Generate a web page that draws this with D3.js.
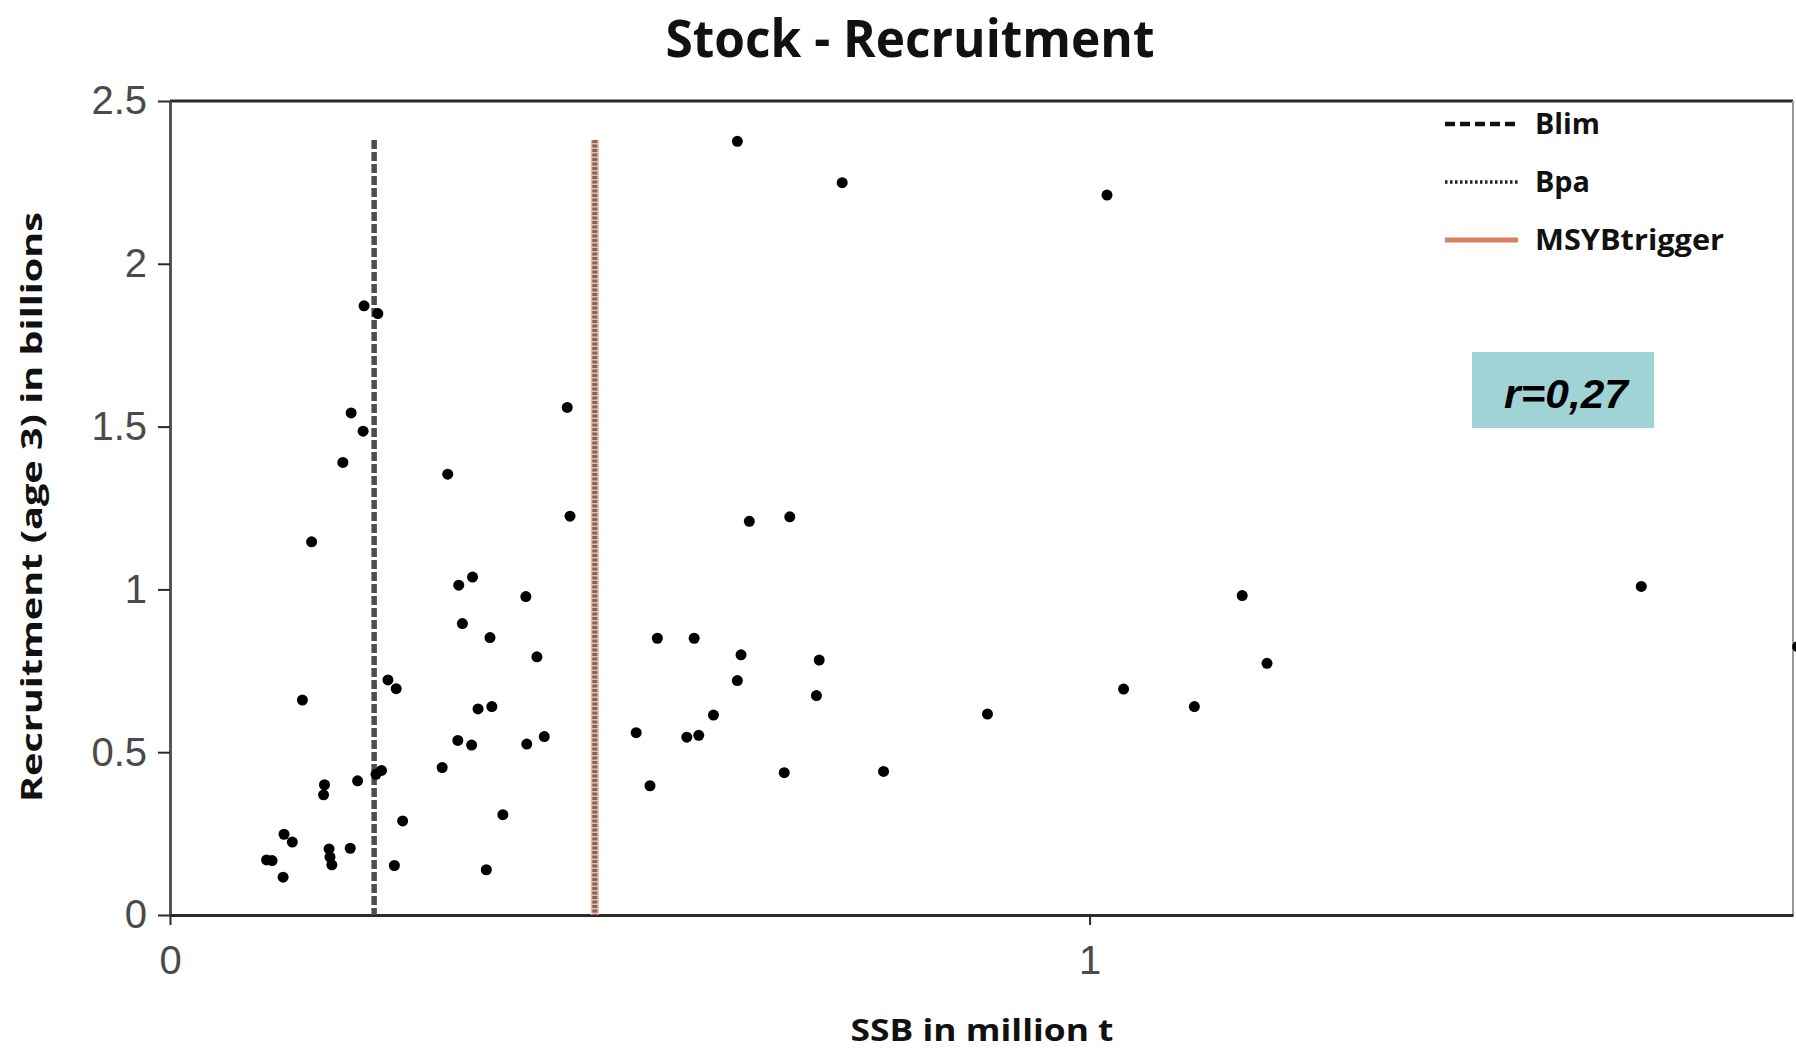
<!DOCTYPE html>
<html>
<head>
<meta charset="utf-8">
<script src="https://cdn.jsdelivr.net/npm/d3@7"></script>
<style>
  html, body { margin: 0; padding: 0; background: #fff; }
  svg { display: block; }
</style>
</head>
<body>
<svg id="chart" width="1796" height="1050"></svg>
<script>
// Spawning stock biomass (million t) and recruitment at age 3 (billions), one pair per year
const ssb = [0.617, 0.731, 1.019, 0.211, 0.226, 0.197, 0.210, 0.188, 0.302, 0.432,
             0.435, 0.630, 0.674, 0.154, 0.329, 0.314, 0.387, 0.318, 0.348, 0.530,
             0.570, 0.399, 0.621, 0.706, 0.237, 0.246, 0.617, 0.144, 0.703, 0.335,
             0.350, 0.591, 0.889, 0.507, 0.562, 0.575, 0.407, 0.388, 0.313, 0.328,
             0.296, 0.230, 0.224, 0.204, 0.168, 0.167, 0.668, 0.776, 0.522, 0.362,
             0.253, 0.124, 0.133, 0.173, 0.174, 0.176, 0.196, 0.105, 0.111, 0.123,
             0.244, 0.344, 1.037, 1.114, 1.166, 1.193, 1.600, 1.770];
const recruitment = [2.376, 2.249, 2.211, 1.871, 1.847, 1.542, 1.486, 1.390, 1.354, 1.559,
                     1.225, 1.209, 1.223, 1.146, 1.038, 1.013, 0.978, 0.895, 0.852, 0.850,
                     0.850, 0.793, 0.799, 0.783, 0.722, 0.695, 0.720, 0.660, 0.674, 0.633,
                     0.640, 0.614, 0.617, 0.560, 0.546, 0.552, 0.548, 0.525, 0.536, 0.522,
                     0.453, 0.444, 0.432, 0.412, 0.400, 0.369, 0.437, 0.441, 0.397, 0.308,
                     0.289, 0.248, 0.224, 0.203, 0.178, 0.154, 0.205, 0.169, 0.167, 0.116,
                     0.152, 0.139, 0.694, 0.640, 0.981, 0.773, 1.009, 0.824];

// Reference points (million t)
const refNames = ["Blim", "Bpa", "MSYBtrigger"];
const refValues = [0.222, 0.462, 0.462];
const refTop = 2.38;

// Axes
const xTicks = [0, 1];
const xTickLabels = ["0", "1"];
const yTicks = [0, 0.5, 1, 1.5, 2, 2.5];
const yTickLabels = ["0", "0.5", "1", "1.5", "2", "2.5"];
const xDomain = [0, 1.765];
const yDomain = [0, 2.5];

const titleText = "Stock - Recruitment";
const xLabel = "SSB in million t";
const yLabel = "Recruitment (age 3) in billions";
const corrLabel = "r=0,27";

(function draw() {
  const svg = d3.select("#chart");
  const plot = { left: 170, right: 1793, top: 101, bottom: 915 };

  const x = d3.scaleLinear().domain(xDomain).range([plot.left, plot.right]);
  const y = d3.scaleLinear().domain(yDomain).range([plot.bottom, plot.top]);

  const boldFont = "'Open Sans', 'Liberation Sans', sans-serif";
  const tickFont = "'Liberation Sans', Arial, sans-serif";

  // Title
  svg.append("text")
    .attr("x", 910).attr("y", 57)
    .attr("text-anchor", "middle")
    .attr("font-family", boldFont).attr("font-weight", 700)
    .attr("font-size", 52).attr("fill", "#111")
    .attr("textLength", 489).attr("lengthAdjust", "spacingAndGlyphs")
    .text(titleText);

  // Plot frame: dark top edge, light right edge
  svg.append("line")
    .attr("x1", plot.left).attr("x2", plot.right)
    .attr("y1", plot.top).attr("y2", plot.top)
    .attr("stroke", "#2a2a2a").attr("stroke-width", 3);
  svg.append("line")
    .attr("x1", plot.right).attr("x2", plot.right)
    .attr("y1", plot.top).attr("y2", plot.bottom)
    .attr("stroke", "#999").attr("stroke-width", 2);

  // Axes
  const yAxis = d3.axisLeft(y).tickValues(yTicks)
    .tickFormat((d, i) => yTickLabels[i]).tickSize(12).tickSizeOuter(0).tickPadding(11);
  const gy = svg.append("g").attr("transform", `translate(${plot.left},0)`).call(yAxis);

  const xAxis = d3.axisBottom(x).tickValues(xTicks)
    .tickFormat((d, i) => xTickLabels[i]).tickSize(10).tickSizeOuter(0).tickPadding(21);
  const gx = svg.append("g").attr("transform", `translate(0,${plot.bottom})`).call(xAxis);

  [gx, gy].forEach(g => {
    g.select(".domain").attr("stroke", "#2a2a2a").attr("stroke-width", 3);
    g.selectAll(".tick line").attr("stroke", "#2a2a2a").attr("stroke-width", 2);
    g.selectAll(".tick text")
      .attr("font-family", tickFont).attr("font-size", 40).attr("fill", "#4a4a4a");
  });
  gy.select(".domain").attr("stroke", "#555");

  // Axis titles
  svg.append("text")
    .attr("x", 982).attr("y", 1041)
    .attr("text-anchor", "middle")
    .attr("font-family", boldFont).attr("font-weight", 700)
    .attr("font-size", 31).attr("fill", "#111")
    .attr("textLength", 263).attr("lengthAdjust", "spacingAndGlyphs")
    .text(xLabel);

  svg.append("text")
    .attr("transform", "translate(42,507) rotate(-90)")
    .attr("text-anchor", "middle")
    .attr("font-family", boldFont).attr("font-weight", 700)
    .attr("font-size", 29).attr("fill", "#111")
    .attr("textLength", 590).attr("lengthAdjust", "spacingAndGlyphs")
    .text(yLabel);

  // Reference lines: MSYBtrigger (solid) under Bpa (dotted), and Blim (dashed)
  const refStyle = {
    "Blim": { stroke: "#4d4d4d", width: 5.5, dash: "9,3" },
    "Bpa": { stroke: "#7d6661", width: 5, dash: "3,1.5" },
    "MSYBtrigger": { stroke: "#f1b8a0", width: 8, dash: null }
  };
  [2, 1, 0].forEach(i => {
    const s = refStyle[refNames[i]];
    svg.append("line")
      .attr("x1", x(refValues[i])).attr("x2", x(refValues[i]))
      .attr("y1", y(refTop)).attr("y2", y(0))
      .attr("stroke", s.stroke).attr("stroke-width", s.width)
      .attr("stroke-dasharray", s.dash);
  });

  // Scatter points
  const pts = ssb.map((v, i) => ({ s: v, r: recruitment[i] }));
  svg.append("g").selectAll("circle").data(pts).join("circle")
    .attr("cx", d => x(d.s)).attr("cy", d => y(d.r))
    .attr("r", 5.5).attr("fill", "#000");

  // Legend
  const legendStyle = {
    "Blim": { stroke: "#111", width: 4.5, dash: "10,5" },
    "Bpa": { stroke: "#222", width: 3.5, dash: "2.5,2.5" },
    "MSYBtrigger": { stroke: "#d9805e", width: 5, dash: null }
  };
  const legendWidths = [65, 55, 189];
  const legendY = [124, 182, 240];
  refNames.forEach((name, i) => {
    const s = legendStyle[name];
    svg.append("line")
      .attr("x1", 1445).attr("x2", 1518)
      .attr("y1", legendY[i]).attr("y2", legendY[i])
      .attr("stroke", s.stroke).attr("stroke-width", s.width)
      .attr("stroke-dasharray", s.dash);
    svg.append("text")
      .attr("x", 1535).attr("y", legendY[i] + 10)
      .attr("font-family", boldFont).attr("font-weight", 700)
      .attr("font-size", 28).attr("fill", "#111")
      .attr("textLength", legendWidths[i]).attr("lengthAdjust", "spacingAndGlyphs")
      .text(name);
  });

  // Correlation box
  svg.append("rect")
    .attr("x", 1472).attr("y", 352).attr("width", 182).attr("height", 76)
    .attr("fill", "#9fd3d6");
  svg.append("text")
    .attr("x", 1566).attr("y", 408)
    .attr("text-anchor", "middle")
    .attr("font-family", tickFont).attr("font-weight", 700).attr("font-style", "italic")
    .attr("font-size", 40).attr("fill", "#000")
    .attr("textLength", 124).attr("lengthAdjust", "spacingAndGlyphs")
    .text(corrLabel);
})();
</script>
</body>
</html>
